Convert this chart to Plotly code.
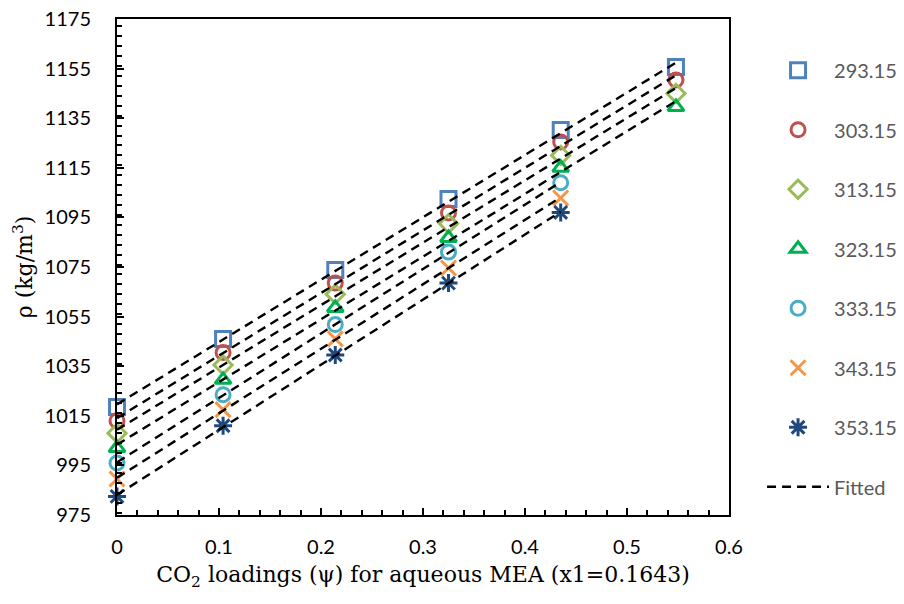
import numpy as np
import plotly.graph_objects as go

# CO2 loadings (x) for each column of points
loading = [0.0, 0.104, 0.214, 0.325, 0.435, 0.548]

temperatures = ["293.15", "303.15", "313.15", "323.15", "333.15", "343.15", "353.15"]

rho_293 = [1018.5, 1046.0, 1073.8, 1102.4, 1130.2, 1155.6]
rho_303 = [1013.0, 1040.5, 1068.5, 1096.8, 1125.4, 1150.4]
rho_313 = [1008.0, 1035.5, 1064.0, 1092.5, 1120.0, 1145.0]
rho_323 = [1002.0, 1029.5, 1058.5, 1086.7, 1115.0, 1139.5]
rho_333 = [996.0, 1023.5, 1051.8, 1081.0, 1109.0]
rho_343 = [989.5, 1017.5, 1046.0, 1074.6, 1102.8]
rho_353 = [982.5, 1011.0, 1039.5, 1068.5, 1097.0]

series = [rho_293, rho_303, rho_313, rho_323, rho_333, rho_343, rho_353]
colors = ["#4F81BD", "#C0504D", "#9BBB59", "#00B050", "#4BACC6", "#F79646", "#1F497D"]
symbols = ["square-open", "circle-open", "diamond-open", "triangle-up-open",
           "circle-open", "x-thin-open", "asterisk-open"]
sizes = [15, 14, 14, 14, 14, 15, 15]

fig = go.Figure()

for i, (t, ys) in enumerate(zip(temperatures, series)):
    xs = loading[:len(ys)]
    fig.add_trace(go.Scatter(
        x=xs, y=ys, mode="markers", name=t,
        legendgroup=t, cliponaxis=False,
        marker=dict(symbol=symbols[i], size=sizes[i], color=colors[i],
                    line=dict(width=3, color=colors[i])),
    ))

# Linear fits (trendlines) of each series
for i, ys in enumerate(series):
    xs = np.array(loading[:len(ys)])
    k, b = np.polyfit(xs, np.array(ys), 1)
    fx = [xs[0], xs[-1]]
    fy = [k * v + b for v in fx]
    fig.add_trace(go.Scatter(
        x=fx, y=fy, mode="lines", name="Fitted",
        legendgroup="Fitted", showlegend=(i == 0),
        line=dict(color="black", width=2.4, dash="9px,6px"),
    ))

fig.update_layout(
    width=904, height=604,
    margin=dict(l=117, r=175, t=19, b=89, autoexpand=False),
    plot_bgcolor="white", paper_bgcolor="white",
    font=dict(family="Lato, Open Sans, sans-serif", color="black", size=20),
    legend=dict(
        x=1.054, xanchor="left", y=0.936, yanchor="top",
        font=dict(size=20, color="#595959", family="Lato, Open Sans, sans-serif"),
        traceorder="grouped", tracegroupgap=30.5,
        itemwidth=62,
    ),
    xaxis=dict(
        range=[0, 0.6], dtick=0.1, tick0=0,
        showline=True, linecolor="black", linewidth=2, mirror=True,
        showgrid=False, zeroline=False,
        ticks="inside", ticklen=7, tickwidth=2, tickcolor="black",
        minor=dict(dtick=0.02, ticks="inside", ticklen=5, tickwidth=1.5, tickcolor="black"),
        tickfont=dict(size=20),
        ticklabelstandoff=13,
        title=dict(text="CO<sub>2</sub> loadings (ψ) for aqueous MEA (x1=0.1643)",
                   font=dict(family="DejaVu Serif, Liberation Serif, serif", size=22),
                   standoff=10),
    ),
    yaxis=dict(
        range=[975, 1175], dtick=20, tick0=975,
        showline=True, linecolor="black", linewidth=2, mirror=True,
        showgrid=False, zeroline=False,
        ticks="inside", ticklen=7, tickwidth=2, tickcolor="black",
        minor=dict(dtick=4, ticks="inside", ticklen=5, tickwidth=1.5, tickcolor="black"),
        tickfont=dict(size=20),
        ticklabelstandoff=20,
        title=dict(text="ρ (kg/m<sup>3</sup>)",
                   font=dict(family="DejaVu Serif, Liberation Serif, serif", size=22),
                   standoff=6),
    ),
)

fig.write_html("out.html")
